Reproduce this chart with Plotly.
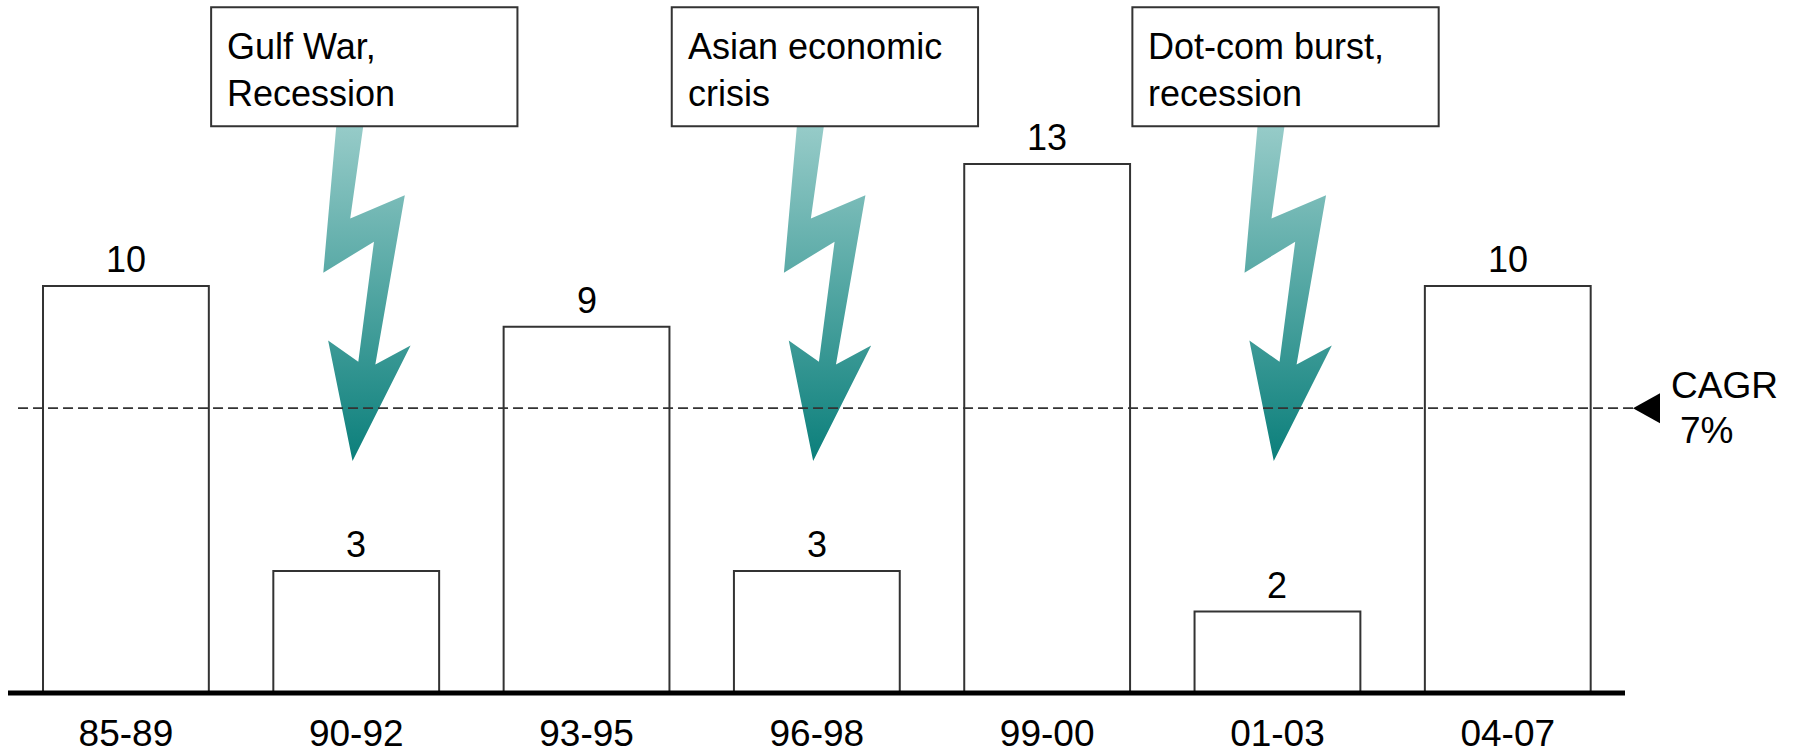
import plotly.graph_objects as go

# ---------------- data ----------------
CATEGORIES = ["85-89", "90-92", "93-95", "96-98", "99-00", "01-03", "04-07"]
VALUES = [10, 3, 9, 3, 13, 2, 10]
CAGR = 7
CAGR_LABEL = ["CAGR", "7%"]
EVENT_CATEGORIES = ["90-92", "96-98", "01-03"]
EVENT_LABELS = ["Gulf War,<br>Recession", "Asian economic<br>crisis", "Dot-com burst,<br>recession"]

# ---------------- styling / decoration geometry ----------------
FONT = "Liberation Sans, Arial, sans-serif"
EDGE = "#333333"
# lightning-bolt glyph outline: offsets from category centre (x, category units) and heights (y, axis units)
BOLT_DX = [-0.087, 0.030, -0.026, 0.211, 0.083, 0.236, -0.016, -0.122, 0.009, 0.077, -0.143, -0.087]
BOLT_Y = [13.91, 13.91, 11.66, 12.23, 8.07, 8.54, 5.70, 8.66, 8.14, 11.09, 10.33, 13.91]
BOX_DX = (-0.63, 0.70)
BOX_Y = (13.93, 16.85)

W, H = 1796, 755
ML, MR, MT, MB = 8, 171, 0, 62
X_RANGE = [-0.512, 6.509]
Y_RANGE = [0, 17.03]

xpos = list(range(len(CATEGORIES)))

fig = go.Figure()

fig.add_trace(go.Bar(
    x=xpos, y=VALUES, width=0.72,
    marker=dict(color="white", line=dict(color=EDGE, width=2)),
    hoverinfo="skip", showlegend=False,
))

# lightning bolts with vertical gradient
for cat in EVENT_CATEGORIES:
    c = CATEGORIES.index(cat)
    fig.add_trace(go.Scatter(
        x=[c + dx for dx in BOLT_DX], y=BOLT_Y,
        mode="lines", fill="toself",
        line=dict(width=0, color="rgba(0,0,0,0)"),
        fillgradient=dict(type="vertical",
                          colorscale=[[0, "#0b7f7b"], [1, "#96cbc8"]]),
        hoverinfo="skip", showlegend=False,
    ))

shapes = []
annotations = []

# value labels
for i, v in enumerate(VALUES):
    annotations.append(dict(
        x=i, y=v, xref="x", yref="y", text=str(v), showarrow=False,
        yanchor="bottom", yshift=4,
        font=dict(family=FONT, size=36, color="black"),
    ))

# event boxes + text
for cat, lab in zip(EVENT_CATEGORIES, EVENT_LABELS):
    c = CATEGORIES.index(cat)
    shapes.append(dict(
        type="rect", xref="x", yref="y",
        x0=c + BOX_DX[0], x1=c + BOX_DX[1], y0=BOX_Y[0], y1=BOX_Y[1],
        line=dict(color=EDGE, width=2), fillcolor="white", layer="above",
    ))
    annotations.append(dict(
        x=c + BOX_DX[0], y=BOX_Y[1], xref="x", yref="y", text=lab,
        showarrow=False, xanchor="left", yanchor="top", align="left",
        xshift=14, yshift=-17,
        font=dict(family=FONT, size=36, color="black"),
    ))

# CAGR dashed line
shapes.append(dict(
    type="line", xref="paper", yref="y", x0=0.0062, x1=1.005, y0=CAGR, y1=CAGR,
    line=dict(color=EDGE, width=1.6, dash="10px,5px"), layer="above",
))
# CAGR pointer triangle
shapes.append(dict(
    type="path", xref="paper", yref="y", xsizemode="pixel", ysizemode="pixel",
    xanchor=1.0133, yanchor=CAGR,
    path="M-13.5,0 L13.5,15 L13.5,-15 Z",
    fillcolor="black", line=dict(width=0), layer="above",
))
annotations.append(dict(
    x=1.029, y=CAGR, xref="paper", yref="y", text=CAGR_LABEL[0], showarrow=False,
    xanchor="left", yanchor="bottom", xshift=-3, yshift=0,
    font=dict(family=FONT, size=37, color="black"),
))
annotations.append(dict(
    x=1.029, y=CAGR, xref="paper", yref="y", text=CAGR_LABEL[1], showarrow=False,
    xanchor="left", yanchor="top", xshift=6, yshift=0,
    font=dict(family=FONT, size=37, color="black"),
))

# baseline (thick axis line) - paper refs so it is not clipped by the plot area
shapes.append(dict(
    type="line", xref="paper", yref="paper", x0=0, x1=1, y0=0, y1=0,
    line=dict(color="black", width=5), layer="above",
))

fig.update_layout(
    width=W, height=H, autosize=False,
    margin=dict(l=ML, r=MR, t=MT, b=MB, pad=0),
    paper_bgcolor="white", plot_bgcolor="white",
    showlegend=False,
    shapes=shapes, annotations=annotations,
    xaxis=dict(range=X_RANGE, tickvals=xpos, ticktext=CATEGORIES,
               showgrid=False, zeroline=False, showline=False, ticks="",
               ticklabelstandoff=15,
               tickfont=dict(family=FONT, size=37, color="black"),
               fixedrange=True),
    yaxis=dict(range=Y_RANGE, visible=False, showgrid=False, zeroline=False,
               fixedrange=True),
)

fig.write_html("out.html", config={"displayModeBar": False})
